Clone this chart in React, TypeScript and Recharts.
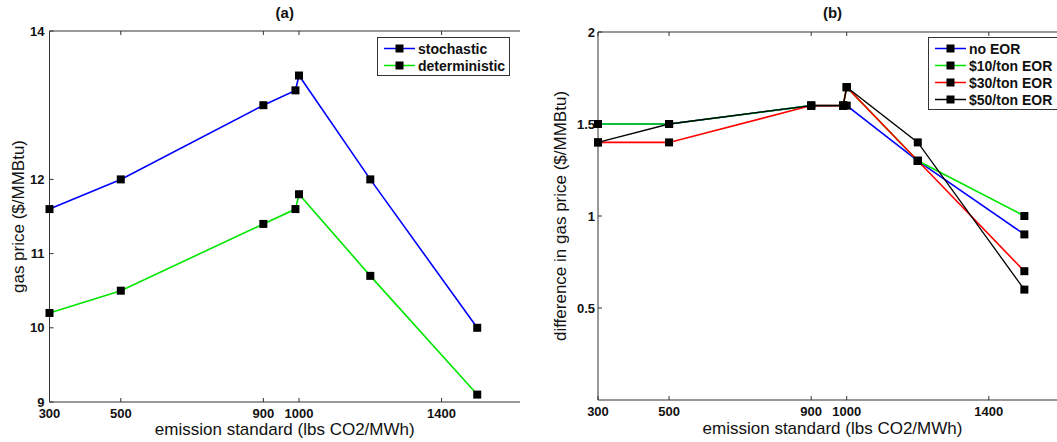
import { LineChart, Line, XAxis, YAxis, Legend } from 'recharts';

const emissionStandards = [300, 500, 900, 990, 1000, 1200, 1500];
const xTicks = [300, 500, 900, 1000, 1400];

// (a) gas price
const seriesNamesA = ['stochastic', 'deterministic'];
const stochastic = [11.6, 12.0, 13.0, 13.2, 13.4, 12.0, 10.0];
const deterministic = [10.2, 10.5, 11.4, 11.6, 11.8, 10.7, 9.1];
const priceTicks = [9, 10, 11, 12, 14];

// (b) difference in gas price
const seriesNamesB = ['no EOR', '$10/ton EOR', '$30/ton EOR', '$50/ton EOR'];
const noEor = [1.5, 1.5, 1.6, 1.6, 1.6, 1.3, 0.9];
const eor10 = [1.5, 1.5, 1.6, 1.6, 1.7, 1.3, 1.0];
const eor30 = [1.4, 1.4, 1.6, 1.6, 1.7, 1.3, 0.7];
const eor50 = [1.4, 1.5, 1.6, 1.6, 1.7, 1.4, 0.6];
const diffTicks = [0.5, 1, 1.5, 2];

const dataA = emissionStandards.map((x, i) => ({
  x,
  stochastic: stochastic[i],
  deterministic: deterministic[i],
}));

const dataB = emissionStandards.map((x, i) => ({
  x,
  noEor: noEor[i],
  eor10: eor10[i],
  eor30: eor30[i],
  eor50: eor50[i],
}));

const FONT = 'Arial, "Liberation Sans", sans-serif';
const AXIS = '#333';
const tickStyle = { fill: '#111', fontSize: 13, fontWeight: 700, fontFamily: FONT };
const labelStyle = { fill: '#111', fontSize: 17, fontFamily: FONT };

const SquareDot = (props: any) => {
  const { cx, cy, index } = props;
  if (cx == null || cy == null) return null;
  return <rect key={`sq-${index}`} x={cx - 4} y={cy - 4} width={8} height={8} fill="#000" />;
};

const makeLegend = (order: string[]) => (props: any) => {
  const items = [...(props.payload || [])].sort(
    (a: any, b: any) => order.indexOf(a.value) - order.indexOf(b.value)
  );
  return (
    <div
      style={{
        border: '1px solid #333',
        background: '#fff',
        boxSizing: 'border-box',
        width: '100%',
        height: '100%',
        paddingTop: 2,
      }}
    >
      {items.map((it: any) => (
        <div key={it.value} style={{ display: 'flex', alignItems: 'center', height: 17 }}>
          <svg width={40} height={17} style={{ flex: 'none' }}>
            <line x1={6} y1={8.5} x2={37} y2={8.5} stroke={it.color} strokeWidth={1.5} />
            <rect x={17.5} y={4.5} width={8} height={8} fill="#000" />
          </svg>
          <span style={{ fontSize: 14, fontWeight: 700, fontFamily: FONT, color: '#111', whiteSpace: 'nowrap' }}>
            {it.value}
          </span>
        </div>
      ))}
    </div>
  );
};

const LegendA = makeLegend(seriesNamesA);
const LegendB = makeLegend(seriesNamesB);

function ChartA() {
  return (
    <LineChart width={530} height={442} data={dataA} margin={{ top: 30, right: 9, bottom: 0, left: 0 }}>
      <XAxis
        dataKey="x"
        type="number"
        domain={[300, 1620]}
        ticks={xTicks}
        interval={0}
        tickSize={-4}
        tickMargin={11}
        height={40}
        stroke={AXIS}
        tick={tickStyle}
        label={{ value: 'emission standard (lbs CO2/MWh)', position: 'insideBottom', offset: 7, style: labelStyle }}
      />
      <XAxis
        xAxisId="top"
        dataKey="x"
        type="number"
        orientation="top"
        domain={[300, 1620]}
        ticks={xTicks}
        interval={0}
        tickSize={-4}
        height={1}
        stroke={AXIS}
        tickFormatter={() => ''}
        label={{ value: '(a)', position: 'top', offset: 12, style: { fill: '#111', fontSize: 15, fontWeight: 700, fontFamily: FONT } }}
      />
      <YAxis
        type="number"
        domain={[9, 14]}
        ticks={priceTicks}
        interval={0}
        tickSize={-4}
        tickMargin={9}
        width={49.5}
        stroke={AXIS}
        tick={tickStyle}
        label={{ value: 'gas price ($/MMBtu)', angle: -90, position: 'insideLeft', offset: 18, style: { ...labelStyle, textAnchor: 'middle' } }}
      />
      <YAxis
        yAxisId="right"
        orientation="right"
        type="number"
        domain={[9, 14]}
        ticks={priceTicks}
        interval={0}
        tickSize={-4}
        width={1}
        stroke={AXIS}
        axisLine={false}
        tickFormatter={() => ''}
      />
      <Legend
        layout="vertical"
        align="center"
        verticalAlign="middle"
        content={LegendA}
        wrapperStyle={{ left: 377, top: 37, width: 133, height: 39 }}
      />
      <Line type="linear" dataKey="stochastic" name={seriesNamesA[0]} stroke="#0000ff" strokeWidth={1.6} dot={SquareDot} activeDot={false} isAnimationActive={false} />
      <Line type="linear" dataKey="deterministic" name={seriesNamesA[1]} stroke="#00e600" strokeWidth={1.6} dot={SquareDot} activeDot={false} isAnimationActive={false} />
    </LineChart>
  );
}

function ChartB() {
  return (
    <LineChart width={550} height={442} data={dataB} margin={{ top: 31, right: 9, bottom: 0, left: 0 }}>
      <XAxis
        dataKey="x"
        type="number"
        domain={[300, 1620]}
        ticks={xTicks}
        interval={0}
        tickSize={-4}
        tickMargin={11}
        height={42}
        stroke={AXIS}
        tick={tickStyle}
        label={{ value: 'emission standard (lbs CO2/MWh)', position: 'insideBottom', offset: 8, style: labelStyle }}
      />
      <XAxis
        xAxisId="top"
        dataKey="x"
        type="number"
        orientation="top"
        domain={[300, 1620]}
        ticks={xTicks}
        interval={0}
        tickSize={-4}
        height={1}
        stroke={AXIS}
        tickFormatter={() => ''}
        label={{ value: '(b)', position: 'top', offset: 13, style: { fill: '#111', fontSize: 15, fontWeight: 700, fontFamily: FONT } }}
      />
      <YAxis
        type="number"
        domain={[0, 2]}
        ticks={diffTicks}
        interval={0}
        tickSize={-4}
        tickMargin={7}
        width={71}
        stroke={AXIS}
        tick={tickStyle}
        label={{ value: 'difference in gas price ($/MMBtu)', angle: -90, position: 'insideLeft', offset: 33, style: { ...labelStyle, textAnchor: 'middle' } }}
      />
      <YAxis
        yAxisId="right"
        orientation="right"
        type="number"
        domain={[0, 2]}
        ticks={diffTicks}
        interval={0}
        tickSize={-4}
        width={1}
        stroke={AXIS}
        axisLine={false}
        tickFormatter={() => ''}
      />
      <Legend
        layout="vertical"
        align="center"
        verticalAlign="middle"
        content={LegendB}
        wrapperStyle={{ left: 401, top: 37, width: 140, height: 73 }}
      />
      <Line type="linear" dataKey="noEor" name={seriesNamesB[0]} stroke="#0000ff" strokeWidth={1.6} dot={SquareDot} activeDot={false} isAnimationActive={false} />
      <Line type="linear" dataKey="eor10" name={seriesNamesB[1]} stroke="#00e600" strokeWidth={1.6} dot={SquareDot} activeDot={false} isAnimationActive={false} />
      <Line type="linear" dataKey="eor30" name={seriesNamesB[2]} stroke="#ff0000" strokeWidth={1.6} dot={SquareDot} activeDot={false} isAnimationActive={false} />
      <Line type="linear" dataKey="eor50" name={seriesNamesB[3]} stroke="#000000" strokeWidth={1.3} dot={SquareDot} activeDot={false} isAnimationActive={false} />
    </LineChart>
  );
}

export default function App() {
  return (
    <div
      style={{
        position: 'absolute',
        left: 0,
        top: 0,
        width: 1057,
        height: 442,
        overflow: 'hidden',
        background: '#fff',
        fontFamily: FONT,
      }}
    >
      <div style={{ position: 'absolute', left: 0, top: 0 }}>
        <ChartA />
      </div>
      <div style={{ position: 'absolute', left: 527, top: 0 }}>
        <ChartB />
      </div>
    </div>
  );
}
